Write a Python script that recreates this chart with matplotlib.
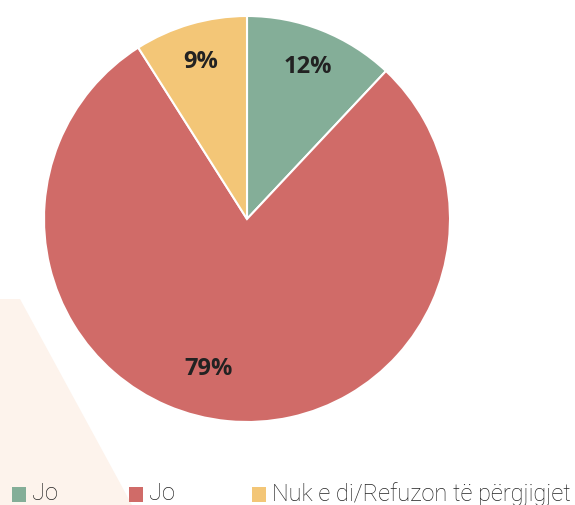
import matplotlib.pyplot as plt
from matplotlib.patches import Polygon, Rectangle

labels = ["Jo", "Jo", "Nuk e di/Refuzon të përgjigjet"]
shares = [12, 79, 9]
colors = ["#84AE98", "#D06B68", "#F3C677"]

W, H = 575, 506
fig = plt.figure(figsize=(W / 100, H / 100), dpi=100)
ax = fig.add_axes([0, 0, 1, 1])

# beige triangle in the background
ax.add_patch(Polygon([(0, H - 300), (20, H - 300), (132, 0), (0, 0)],
                     closed=True, facecolor="#FDF3EC", edgecolor="none", zorder=0))

wedges, _, pct = ax.pie(
    shares, colors=colors, startangle=90, counterclock=False,
    center=(247, H - 220), radius=203, frame=True,
    autopct=lambda p: f"{p:.0f}%", pctdistance=0.81,
    wedgeprops=dict(edgecolor="white", linewidth=1.5),
    textprops=dict(fontsize=17, fontweight="bold", color="#222222", family="Open Sans"),
)
ax.set_xlim(0, W)
ax.set_ylim(0, H)
ax.set_aspect("equal")
ax.axis("off")
pct[1].set_position((209, H - 369))

# legend drawn by hand
xs = [12, 129, 252]
for x, lab, col in zip(xs, labels, colors):
    ax.add_patch(Rectangle((x, H - 503), 14, 15, facecolor=col, edgecolor="none"))
    ax.text(x + 20, H - 494, lab, fontsize=17, family="Roboto", fontweight="light",
            color="#222222", va="center", ha="left")

fig.savefig("out.png", dpi=100)
